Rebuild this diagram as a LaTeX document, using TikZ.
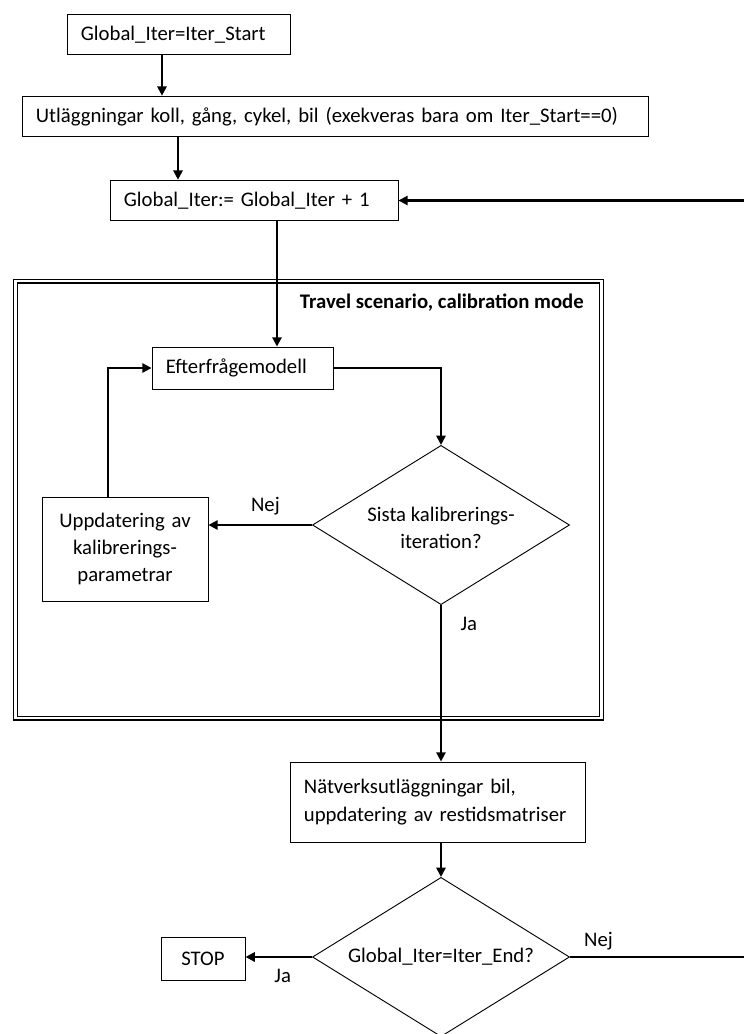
\documentclass[tikz,border=0pt]{standalone}
\usepackage{fontspec}
\setmainfont{Carlito}
\usetikzlibrary{shapes.geometric, arrows.meta, positioning, calc}
\tikzset{
    textbox/.style ={rectangle, draw=black, line width=0.5pt, inner xsep=7.5pt, inner ysep=2pt, align=left, font=\fontsize{11.2}{14.8}\selectfont},
    decision/.style={diamond, aspect=1.6, minimum width=138.8pt, minimum height=86pt, draw=black, line width=0.5pt, inner sep=0pt, align=center, font=\fontsize{11.2}{14.8}\selectfont},
    flowarrow/.style={-{Triangle[length=5pt, width=5pt]}, line width=1.1pt},
    lbl/.style={font=\fontsize{11.2}{14.8}\selectfont, inner sep=1pt},
}

\begin{document}
\begin{tikzpicture}[x=0.54pt, y=-0.54pt]
                \useasboundingbox (0,0) rectangle (744,1034);
                % calibration frame
                \draw[line width=0.55pt, double, double distance=1.6pt] (15.5,281) rectangle (601.5,718);
                \node[lbl, anchor=east, font=\fontsize{11.2}{14.8}\selectfont\bfseries] (frametitle) at (586,303) {Travel scenario, calibration mode};
                % connector columns
                \coordinate (colA) at (162,0);
                \coordinate (colB) at (178,0);
                \coordinate (colC) at (277,0);
                \coordinate (colD) at (108,0);
                \coordinate (rt) at (748,0);
                % boxes
                \node[textbox, text width=105.4pt, minimum height=22pt] (start) at (178.5,34.5) {Global\_Iter=Iter\_Start};
                \node[textbox, text width=323pt, minimum height=22pt] (utlagg) at (335,116.5) {Utläggningar koll, gång, cykel, bil (exekveras bara om Iter\_Start==0)};
                \node[textbox, text width=140.5pt, minimum height=22pt] (iterupd) at (254,200.5) {Global\_Iter:= Global\_Iter + 1};
                \node[textbox, text width=82.7pt, minimum height=22.7pt] (demand) at (242.5,368) {Efterfrågemodell};
                \node[textbox, align=center, text width=74.6pt, minimum height=56.2pt] (calupd) at (125,549) {Uppdatering av\\kalibrerings-\\parametrar};
                \node[decision] (lastcal) at (441,525) {\\[-4pt]Sista kalibrerings-\\iteration?};
                \node[textbox, text width=144.3pt, minimum height=43.2pt] (netw) at (437.5,802) {Nätverksutläggningar bil,\\uppdatering av restidsmatriser};
                \node[decision] (endchk) at (441,957) {Global\_Iter=Iter\_End?};
                \node[textbox, align=center, minimum width=45.4pt, minimum height=23.2pt] (stop) at (203,958.5) {STOP};
                % connectors
                \draw[flowarrow](start.south -| colA)--(utlagg.north -| colA);
                \draw[flowarrow](utlagg.south -| colB)--(iterupd.north -| colB);
                \draw[flowarrow](iterupd.south -| colC)--(demand.north -| colC);
                \draw[flowarrow](demand.east)-|(lastcal.north);
                \draw[flowarrow](lastcal.west)-- node[lbl, pos=0.45, above, yshift=4pt]{Nej}(lastcal.west -| calupd.east);
                \draw[flowarrow](calupd.north -| colD)|-(demand.west);
                \draw[flowarrow](lastcal.south)-- node[lbl, pos=0.12, right, xshift=9pt]{Ja}(lastcal.south |- netw.north);
                \draw[flowarrow](netw.south -| endchk.north)--(endchk.north);
                \draw[flowarrow](endchk.west)-- node[lbl, pos=0.44, below, yshift=-5pt]{Ja}(endchk.west -| stop.east);
                \draw[flowarrow](endchk.east)-- node[lbl, pos=0.16, above, yshift=2pt]{Nej}(endchk.east -| rt)|-(iterupd.east);
            \end{tikzpicture}
\end{document}
